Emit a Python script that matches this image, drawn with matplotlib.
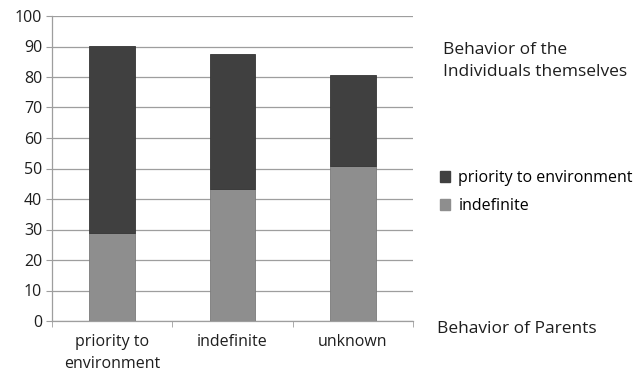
import matplotlib
matplotlib.use("Agg")
import matplotlib.pyplot as plt
from matplotlib.patches import Patch

categories = ["priority to\nenvironment", "indefinite", "unknown"]
indefinite = [29, 43.3, 50.8]
priority_env = [61, 44.2, 29.7]
series_names = ["priority to environment", "indefinite"]
y_ticks = [0, 10, 20, 30, 40, 50, 60, 70, 80, 90, 100]

dark = "#404040"
light = "#8e8e8e"
grid_c = "#9e9e9e"
text_c = "#1e1e1e"

plt.rcParams["font.family"] = ["Open Sans", "DejaVu Sans"]

fig = plt.figure(figsize=(6.36, 3.74), dpi=100)
ax = fig.add_axes([52 / 636, 1 - 321 / 374, (413 - 52) / 636, (321 - 16) / 374])

x = range(len(categories))
ax.bar(x, indefinite, width=0.38, color=light, edgecolor="#7a7a7a", linewidth=0.6, zorder=3)
ax.bar(x, priority_env, bottom=indefinite, width=0.38, color=dark, edgecolor="#353535",
       linewidth=0.6, zorder=3)

ax.set_xlim(-0.5, 2.5)
ax.set_ylim(0, 100)
ax.set_yticks(y_ticks)
ax.set_yticklabels([str(v) for v in y_ticks], fontsize=11.5, color=text_c)
ax.yaxis.grid(True, color=grid_c, linewidth=0.9, zorder=0)
ax.set_xticks(list(x))
ax.set_xticklabels(categories, fontsize=11.5, color=text_c, linespacing=1.5)
ax.tick_params(axis="x", length=0, pad=9)
ax.tick_params(axis="y", length=4, color=grid_c, pad=3)
ax.set_xticks([-0.5, 0.5, 1.5, 2.5], minor=True)
ax.tick_params(axis="x", which="minor", length=4, color=grid_c)

for s in ["top", "right"]:
    ax.spines[s].set_visible(False)
ax.spines["left"].set_color(grid_c)
ax.spines["bottom"].set_color(grid_c)
ax.spines["left"].set_linewidth(0.9)
ax.spines["bottom"].set_linewidth(0.9)

fig.text(443 / 636, 1 - 61 / 374, "Behavior of the\nIndividuals themselves", fontsize=12.5,
         color=text_c, va="center", ha="left", linespacing=1.5)
fig.text(437 / 636, 1 - 329 / 374, "Behavior of Parents", fontsize=12.5, color=text_c,
         va="center", ha="left")

handles = [Patch(facecolor=dark, edgecolor=dark), Patch(facecolor=light, edgecolor=light)]
fig.legend(handles, series_names, loc="center left", bbox_to_anchor=(440 / 636, 1 - 192 / 374),
           frameon=False, fontsize=11.5, handlelength=0.65, handleheight=0.65,
           handletextpad=0.5, labelspacing=0.75, borderpad=0, borderaxespad=0)

fig.savefig("out.png", dpi=100, facecolor="white")
